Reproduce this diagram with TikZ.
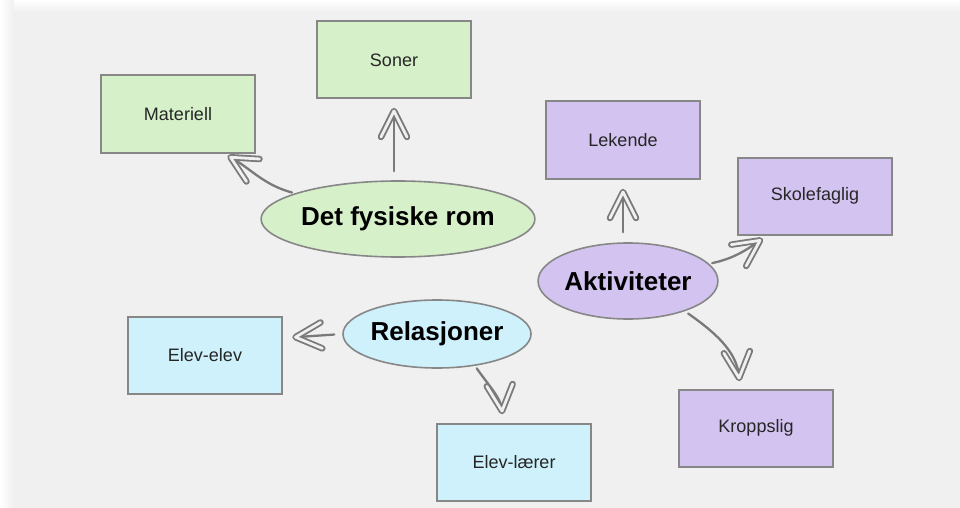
\documentclass[tikz,border=0pt]{standalone}
\usepackage{fontspec}
\setmainfont{Liberation Sans}
\usetikzlibrary{arrows.meta,shapes.geometric}

\definecolor{paper}{RGB}{240,240,240}
\definecolor{edge}{RGB}{135,135,135}
\definecolor{greenfill}{RGB}{214,240,201}
\definecolor{violetfill}{RGB}{211,195,241}
\definecolor{bluefill}{RGB}{206,241,251}
\definecolor{inkgray}{RGB}{122,122,122}

% Hollow, hand-drawn looking V head: a thick grey stroke with a paper-coloured core
\pgfdeclarearrow{
  name = HollowV,
  cache = false,
  setup code = {
    \pgfarrowssettipend{3.5pt}
    \pgfarrowssetlineend{-2pt}
    \pgfarrowssetbackend{-30pt}
    \pgfarrowsupperhullpoint{-30pt}{17pt}
    \pgfarrowsupperhullpoint{3.5pt}{0pt}
  },
  drawing code = {
    \pgfsetroundcap
    \pgfsetroundjoin
    \pgfsetlinewidth{6.5pt}
    \pgfsetstrokecolor{inkgray}
    \pgfpathmoveto{\pgfpoint{-26pt}{13pt}}
    \pgfpathlineto{\pgfpointorigin}
    \pgfpathlineto{\pgfpoint{-26pt}{-13pt}}
    \pgfusepathqstroke
    \pgfsetlinewidth{2.8pt}
    \pgfsetstrokecolor{paper}
    \pgfpathmoveto{\pgfpoint{-26pt}{13pt}}
    \pgfpathlineto{\pgfpointorigin}
    \pgfpathlineto{\pgfpoint{-26pt}{-13pt}}
    \pgfusepathqstroke
  }
}

\tikzset{
  topic/.style={ellipse, draw=edge, line width=1.6pt, inner sep=0pt,
    font=\fontsize{26}{30}\selectfont\bfseries, text=black},
  leaf/.style={rectangle, draw=edge, line width=2pt, minimum width=154pt,
    minimum height=77pt, inner sep=0pt, font=\fontsize{18}{21}\selectfont,
    text=black!85},
  link/.style={draw=inkgray, line width=2.3pt, line cap=round, -{HollowV}}
}

\begin{document}
\begin{tikzpicture}[x=1pt, y=-1pt]
  % paper background with a soft white rim on the top and left
  \fill[paper] (0,0) rectangle (960,508);
  \shade[top color=white, bottom color=paper] (0,0) rectangle (960,12);
  \shade[left color=white, right color=paper] (0,0) rectangle (14,508);
  \useasboundingbox (0,0) rectangle (960,508);

  % main topics
  \node[topic, fill=greenfill, minimum width=270pt, minimum height=76pt] (fys) at (398,219) {Det fysiske rom};
  \node[topic, fill=violetfill, minimum width=179pt, minimum height=76pt] (akt) at (628,281) {Aktiviteter};
  \node[topic, fill=bluefill, minimum width=188pt, minimum height=68pt] (rel) at (437,334) {Relasjoner};

  % sub-topics
  \node[leaf, fill=greenfill] (mat) at (178,114) {Materiell};
  \node[leaf, fill=greenfill] (son) at (394,60) {Soner};
  \node[leaf, fill=violetfill] (lek) at (623,140) {Lekende};
  \node[leaf, fill=violetfill] (sko) at (815,196) {Skolefaglig};
  \node[leaf, fill=violetfill] (kro) at (756,428) {Kroppslig};
  \node[leaf, fill=bluefill] (ele) at (205,355) {Elev-elev};
  \node[leaf, fill=bluefill] (lar) at (514,462) {Elev-lærer};

  % connectors
  \draw[link, shorten <=3pt, shorten >=4pt] (fys.166) to[out=165, in=-30] ([xshift=-32pt]mat.south east);
  \draw[link, shorten <=9pt, shorten >=8pt] (fys.north -| son.south) -- (son.south);
  \draw[link, shorten <=10pt, shorten >=9pt] (akt.north -| lek.south) -- (lek.south);
  \draw[link, shorten <=3pt, shorten >=5pt] (akt.12) to[out=12, in=-145] ([xshift=30pt]sko.south west);
  \draw[link, shorten <=4pt, shorten >=7pt] (akt.-28) to[out=-35, in=95] ([xshift=-16pt]kro.north);
  \draw[link, shorten <=8pt, shorten >=9pt] (rel.west) -- ([yshift=17pt]ele.east);
  \draw[link, shorten <=3pt, shorten >=8pt] (rel.-40) to[out=-55, in=95] ([xshift=-11pt]lar.north);
\end{tikzpicture}
\end{document}
